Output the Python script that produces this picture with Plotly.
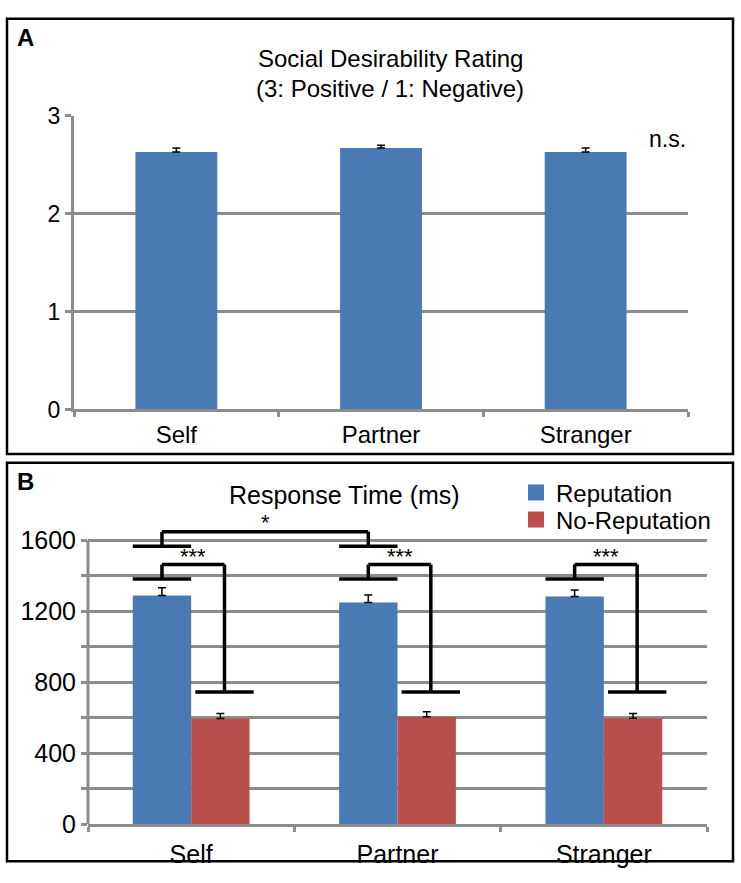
import plotly.graph_objects as go

# ---------------- data ----------------
categories = ["Self", "Partner", "Stranger"]

# Panel A: social desirability rating (mean, +SE)
rating_mean = [2.63, 2.67, 2.63]
rating_err = [0.04, 0.03, 0.04]
a_yticks = [0, 1, 2, 3]

# Panel B: response time (ms)
series_names = ["Reputation", "No-Reputation"]
rt_rep = [1289, 1250, 1283]
rt_rep_err = [44, 42, 38]
rt_norep = [596, 607, 598]
rt_norep_err = [28, 28, 27]
b_yticks = [0, 200, 400, 600, 800, 1000, 1200, 1400, 1600]
b_yticklabels = ["0", "", "400", "", "800", "", "1200", "", "1600"]

# significance brackets (ms levels)
star_low, star_high, star_text = 1567, 1649, 1700
trip_low, trip_high, trip_bottom, trip_text = 1382, 1464, 746, 1508
star_pairs = [(0, 1)]           # Self vs Partner (Reputation)
trip_cats = [0, 1, 2]           # Rep vs No-Rep in each category

# ---------------- styling ----------------
FONT = "Liberation Sans, Arial, Helvetica, sans-serif"
BLUE = "#4a7ab4"
RED = "#bb4f4c"
GRID = "#8c8c8c"
W, H = 741, 883
B_BARGAP = 0.434
half = (1 - B_BARGAP) / 4  # half width of one bar in panel B (category units)


def px(x):
    return x / W


def py(y):
    return 1 - y / H


fig = go.Figure()

fig.add_trace(go.Bar(
    x=categories, y=rating_mean, width=0.4, marker_color=BLUE,
    marker_line_width=0, showlegend=False,
    error_y=dict(type="data", array=rating_err, symmetric=False,
                 arrayminus=[0] * len(rating_err), color="black",
                 thickness=1.5, width=4),
    xaxis="x", yaxis="y"))

for name, vals, errs, col, lg in [
        (series_names[0], rt_rep, rt_rep_err, BLUE, "legend"),
        (series_names[1], rt_norep, rt_norep_err, RED, "legend2")]:
    fig.add_trace(go.Bar(
        x=categories, y=vals, name=name, marker_color=col,
        marker_line_width=0, showlegend=False, legendgroup=name,
        error_y=dict(type="data", array=errs, symmetric=False,
                     arrayminus=[0] * len(errs), color="black",
                     thickness=1.5, width=4),
        xaxis="x2", yaxis="y2"))
    # legend entry with a larger square swatch (as in the original)
    fig.add_trace(go.Scatter(
        x=[None], y=[None], mode="markers", name=name, legend=lg,
        legendgroup=name,
        marker=dict(symbol="square", size=16, color=col, line_width=0),
        xaxis="x2", yaxis="y2"))


def axis_common(size):
    return dict(showline=True, linecolor=GRID, linewidth=3,
                tickcolor=GRID, tickwidth=3, ticks="outside",
                tickfont=dict(family=FONT, size=size, color="black"))


legend_common = dict(xanchor="left", yanchor="middle",
                     font=dict(family=FONT, size=24, color="black"),
                     bgcolor="rgba(0,0,0,0)", itemwidth=30,
                     itemsizing="trace")

fig.update_layout(
    width=W, height=H, margin=dict(l=0, r=0, t=0, b=0),
    paper_bgcolor="white", plot_bgcolor="white",
    barmode="group", bargap=B_BARGAP, bargroupgap=0,
    font=dict(family=FONT, color="black"),
    xaxis=dict(domain=[px(74), px(688)], anchor="y", type="category",
               tickson="boundaries", ticklen=5, showgrid=False,
               ticklabelstandoff=2, **axis_common(24)),
    yaxis=dict(domain=[py(409), py(106)], anchor="x", range=[0, 3],
               tickvals=a_yticks, ticklen=6, showgrid=True, gridcolor=GRID,
               gridwidth=3, zeroline=False, **axis_common(23)),
    xaxis2=dict(domain=[px(88), px(707)], anchor="y2", type="category",
                categoryorder="array", categoryarray=categories,
                tickson="boundaries", ticklen=5, showgrid=False,
                ticklabelstandoff=6, **axis_common(25)),
    yaxis2=dict(domain=[py(837), py(522)], anchor="x2", range=[0, 1720],
                tickvals=b_yticks, ticktext=b_yticklabels, ticklen=6,
                showgrid=True, gridcolor=GRID, gridwidth=3, zeroline=False,
                showline=False, linecolor=GRID, linewidth=3,
                tickcolor=GRID, tickwidth=3, ticks="outside",
                tickfont=dict(family=FONT, size=25, color="black")),
    legend=dict(x=px(516), y=py(495), **legend_common),
    legend2=dict(x=px(516), y=py(523), **legend_common),
)

shapes = []
# panel frames
shapes.append(dict(type="rect", xref="paper", yref="paper",
                   x0=px(7), x1=px(733), y0=py(455), y1=py(6),
                   line=dict(color="black", width=2.5)))
shapes.append(dict(type="rect", xref="paper", yref="paper",
                   x0=px(7), x1=px(733), y0=py(875), y1=py(464),
                   line=dict(color="black", width=2.5)))
# panel B left axis line (0 .. 1600)
shapes.append(dict(type="line", xref="x2 domain", yref="y2", x0=0, x1=0,
                   y0=0, y1=b_yticks[-1], line=dict(color=GRID, width=3)))

LW = 3.5
blk = dict(color="black", width=LW)


def seg(x0, y0, x1, y1):
    shapes.append(dict(type="line", xref="x2", yref="y2",
                       x0=x0, y0=y0, x1=x1, y1=y1, line=blk))


annotations = []
for a, b in star_pairs:
    ca, cb = a - half, b - half
    seg(ca - half, star_low, ca + half, star_low)
    seg(cb - half, star_low, cb + half, star_low)
    seg(ca, star_low, ca, star_high)
    seg(ca, star_high, cb, star_high)
    seg(cb, star_high, cb, star_low)
    annotations.append(dict(xref="x2", yref="y2", x=(ca + cb) / 2, y=star_text,
                            xanchor="center", yanchor="middle",
                            text="*", showarrow=False,
                            font=dict(family=FONT, size=22, color="black")))

for i in trip_cats:
    cl, cr = i - half, i + half + 0.02
    seg(cl - half, trip_low, cl + half, trip_low)
    seg(cl, trip_low, cl, trip_high)
    seg(cl, trip_high, cr, trip_high)
    seg(cr, trip_high, cr, trip_bottom)
    seg(cr - half, trip_bottom, cr + half, trip_bottom)
    annotations.append(dict(xref="x2", yref="y2", x=(cl + cr) / 2, y=trip_text,
                            xanchor="center", yanchor="middle",
                            text="***", showarrow=False,
                            font=dict(family=FONT, size=22, color="black")))

annotations += [
    dict(xref="paper", yref="paper", x=px(25), y=py(25), text="<b>A</b>",
         xanchor="center", yanchor="middle",
         showarrow=False, font=dict(family=FONT, size=24, color="black")),
    dict(xref="paper", yref="paper", x=px(25), y=py(483), text="<b>B</b>",
         xanchor="center", yanchor="middle",
         showarrow=False, font=dict(family=FONT, size=24, color="black")),
    dict(xref="paper", yref="paper", x=px(390), y=py(47),
         xanchor="center", yanchor="middle",
         text="Social Desirability Rating",
         showarrow=False, font=dict(family=FONT, size=24, color="black")),
    dict(xref="paper", yref="paper", x=px(390), y=py(78),
         xanchor="center", yanchor="middle",
         text="(3: Positive / 1: Negative)",
         showarrow=False, font=dict(family=FONT, size=24, color="black")),
    dict(xref="paper", yref="paper", x=px(344), y=py(497),
         xanchor="center", yanchor="middle",
         text="Response Time (ms)", showarrow=False,
         font=dict(family=FONT, size=25, color="black")),
    dict(xref="x", yref="y", x=2.5, y=2.765, xanchor="right", yanchor="middle",
         text="n.s.", showarrow=False,
         font=dict(family=FONT, size=23, color="black")),
]

fig.update_layout(shapes=shapes, annotations=annotations)
fig.write_html("out.html", config={"displayModeBar": False},
               post_script="document.body.style.margin='0';")
